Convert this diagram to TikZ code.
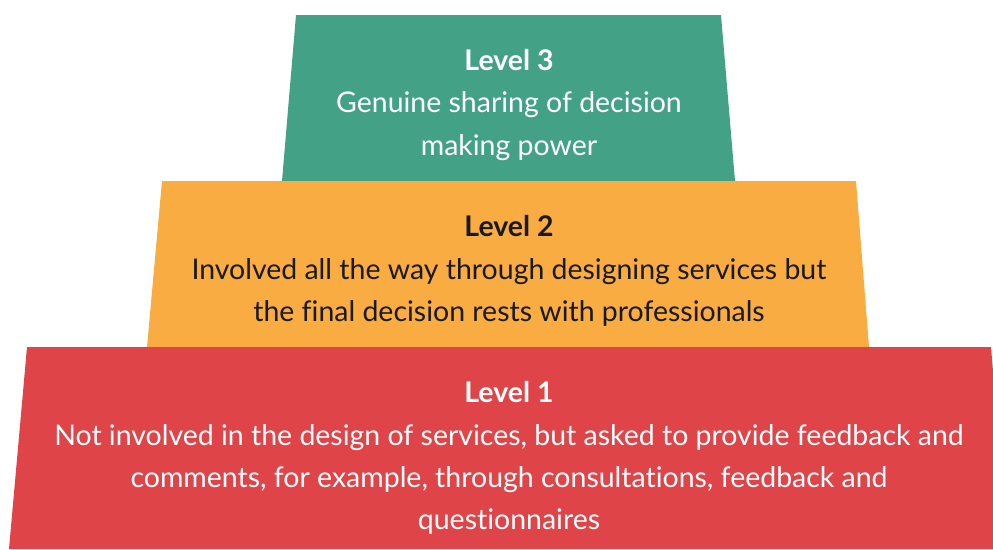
\documentclass[tikz,border=0pt]{standalone}
\usepackage{fontspec}
\setmainfont[Ligatures={NoCommon,NoRare}]{Lato}
\usepackage{tikz}
\usetikzlibrary{calc}
\definecolor{tiergreen}{HTML}{43A286}
\definecolor{tierorange}{HTML}{F9AC42}
\definecolor{tierred}{HTML}{DF4449}
\tikzset{
  tiertext/.style={align=center,inner sep=0pt,font=\fontsize{16.2}{24}\selectfont}
}

\begin{document}
\begin{tikzpicture}[x=0.02cm,y=-0.02cm]
\useasboundingbox (0,0) rectangle (993,549);
% the three blocks, top to bottom
\fill[tiergreen] (296,15) -- (721,15) -- (735,181) -- (282,181) -- cycle;
\fill[tierorange] (162,181) -- (856,181) -- (869,347) -- (147,347) -- cycle;
\fill[tierred] (27,347) -- (991,347) -- (993,371) -- (993,549) -- (9,549) -- cycle;
% texts
\node[tiertext,text=white] (lvl3) at (509,105) {\textbf{Level 3}\\Genuine sharing of decision\\making power};
\node[tiertext,text=black!90] (lvl2) at (509,271) {\textbf{Level 2}\\Involved all the way through designing services but\\the final decision rests with professionals};
\node[tiertext,text=white] (lvl1) at (509,458) {\textbf{Level 1}\\Not involved in the design of services, but asked to provide feedback and\\comments, for example, through consultations, feedback and\\questionnaires};
\end{tikzpicture}
\end{document}
